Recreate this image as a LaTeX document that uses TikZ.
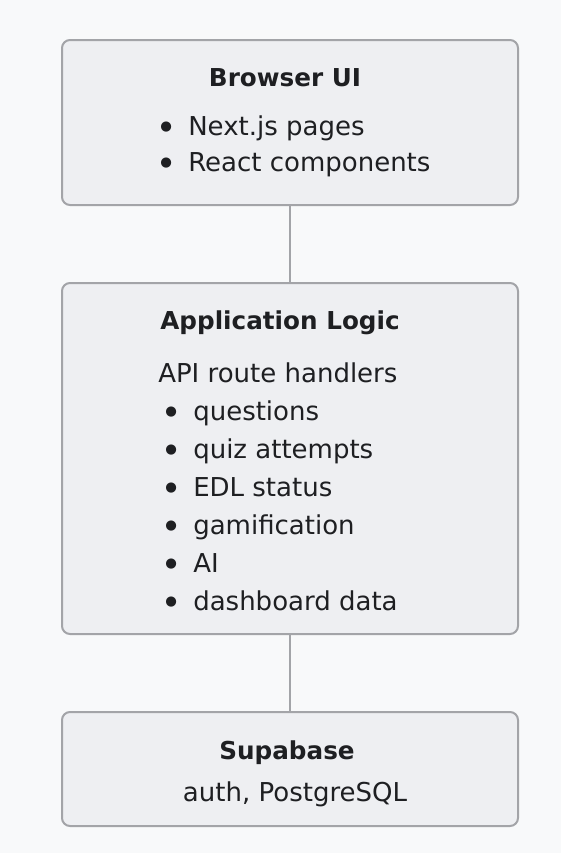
\documentclass[tikz,border=0pt]{standalone}
\usepackage{fontspec}
\setmainfont{DejaVu Sans}
\usepackage{tikz}

\definecolor{bgcol}{HTML}{F8F9FA}
\definecolor{boxfill}{HTML}{EEEFF2}
\definecolor{boxline}{HTML}{A3A4A8}
\definecolor{inkcol}{HTML}{1E1F22}

\newcommand{\bul}[1]{\makebox[21pt][l]{\raisebox{3.4pt}{\fontsize{10}{10}\selectfont ●}}#1}

\tikzset{
  layer/.style={draw=boxline, fill=boxfill, line width=1.5pt, rounded corners=6pt,
    minimum width=342pt, inner sep=0pt},
  link/.style={draw=boxline, line width=1.5pt},
  title/.style={font=\fontsize{18.5}{22}\selectfont\bfseries, text=inkcol, inner sep=0pt, anchor=base},
  item/.style={font=\fontsize{19.5}{22}\selectfont, text=inkcol, inner sep=0pt, anchor=base west}
}

\begin{document}
\begin{tikzpicture}[x=0.75pt, y=-0.75pt]
					% Define the canvas
					\fill[bgcol] (0,0) rectangle (561,853);
					% Create the layers
					\node[layer, minimum height=123.75pt] (ui) at (290,122.5) {};
					\node[layer, minimum height=263.25pt] (logic) at (290,458.5) {};
					\node[layer, minimum height=85.5pt] (db) at (290,769) {};
					% Connect the layers
					\draw[link] (ui) -- (logic);
					\draw[link] (logic) -- (db);
					% Browser UI
					\node[title] (uiT) at (285,86.7) {Browser UI};
					\foreach \txt [count=\i] in {Next.js pages, React components}
						\node[item] (ui\i) at (160,{99.5+36*\i}) {\bul{\txt}};
					% Application Logic
					\node[title] (logicT) at (280,329) {Application Logic};
					\node[item] (api) at (158,382) {API route handlers};
					\foreach \txt [count=\i] in {questions, quiz attempts, EDL status, gamification, AI, dashboard data}
						\node[item] (logic\i) at (165,{382+38*\i}) {\bul{\txt}};
					% Supabase
					\node[title] (dbT) at (287,759) {Supabase};
					\node[item, anchor=base] (dbS) at (295,801.7) {auth, PostgreSQL};
				\end{tikzpicture}
\end{document}
